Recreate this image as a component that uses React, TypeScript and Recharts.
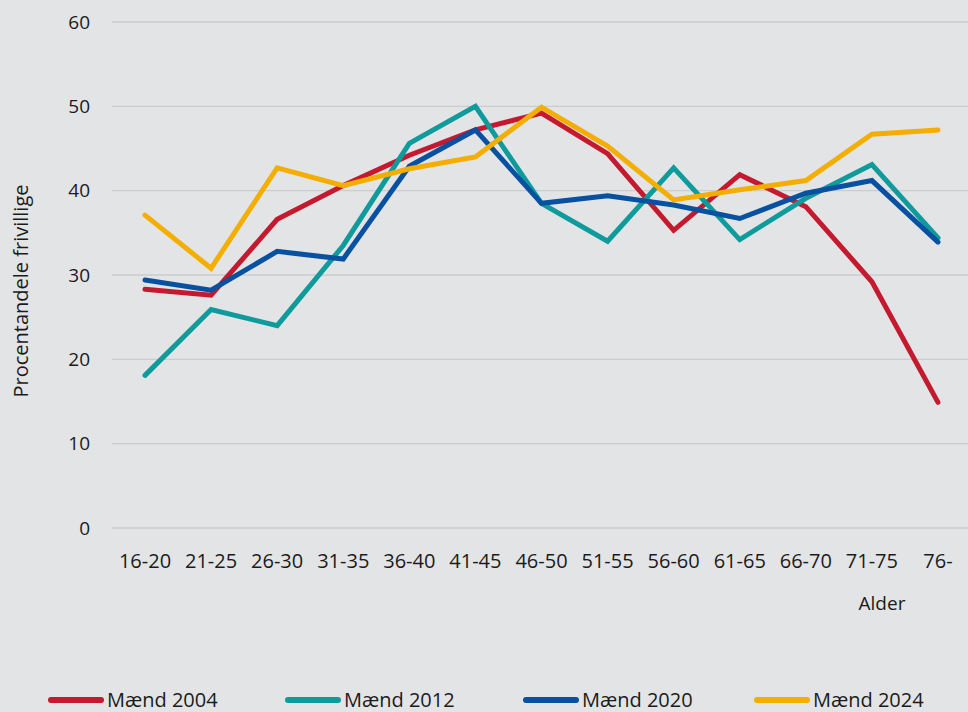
import { LineChart, Line, XAxis, YAxis, CartesianGrid, Legend } from 'recharts';

const AGES = ['16-20', '21-25', '26-30', '31-35', '36-40', '41-45', '46-50', '51-55', '56-60', '61-65', '66-70', '71-75', '76-'];

const MAEND_2004 = [28.3, 27.6, 36.6, 40.6, 44.2, 47.2, 49.2, 44.4, 35.3, 41.9, 38.1, 29.2, 14.9];
const MAEND_2012 = [18.1, 25.9, 24.0, 33.5, 45.6, 50.0, 38.5, 34.0, 42.7, 34.2, 39.1, 43.1, 34.4];
const MAEND_2020 = [29.4, 28.2, 32.8, 31.9, 42.9, 47.2, 38.5, 39.4, 38.3, 36.7, 39.7, 41.2, 33.9];
const MAEND_2024 = [37.1, 30.8, 42.7, 40.6, 42.6, 44.0, 49.9, 45.3, 38.9, 40.1, 41.2, 46.7, 47.2];

const Y_TICKS = [0, 10, 20, 30, 40, 50, 60];

const SERIES = [
    { key: 'm2004', name: 'Mænd 2004', color: '#c41a30', values: MAEND_2004 },
    { key: 'm2012', name: 'Mænd 2012', color: '#0f9b9b', values: MAEND_2012 },
    { key: 'm2020', name: 'Mænd 2020', color: '#0751a0', values: MAEND_2020 },
    { key: 'm2024', name: 'Mænd 2024', color: '#f3ae00', values: MAEND_2024 },
];

// legend item left edges, px
const LEGEND_X = [48, 285, 523, 754];

const TEXT = '#1b1b1b';

const data = AGES.map((age, i) => {
    const row: Record<string, string | number> = { age };
    SERIES.forEach((s) => { row[s.key] = s.values[i]; });
    return row;
});

function LegendRow(props: any) {
    const payload = props.payload ?? [];
    return (
        <div style={{ position: 'relative', height: 24, width: 968 }}>
            {payload.map((p: any, i: number) => (
                <div
                    key={p.value}
                    style={{ position: 'absolute', left: LEGEND_X[i], top: 0, height: 24, display: 'flex', alignItems: 'center' }}
                >
                    <span style={{ display: 'inline-block', width: 56, height: 6, borderRadius: 3, background: p.color }} />
                    <span style={{ marginLeft: 3, fontSize: 20, color: TEXT, lineHeight: '24px' }}>{p.value}</span>
                </div>
            ))}
        </div>
    );
}

function YTitle(props: any) {
    const vb = props.viewBox ?? { x: 0, y: 0, height: 0 };
    const x = vb.x + 20;
    const y = vb.y + vb.height / 2 + 16;
    return (
        <text x={x} y={y} transform={`rotate(-90, ${x}, ${y})`} textAnchor="middle" dominantBaseline="central" fontSize={20} fill={TEXT}>
            Procentandele frivillige
        </text>
    );
}

function XTitle(props: any) {
    const vb = props.viewBox ?? { x: 0, y: 0, width: 0 };
    return (
        <text x={vb.x + vb.width - 89} y={vb.y + 75} textAnchor="middle" dominantBaseline="central" fontSize={19} fill={TEXT}>
            Alder
        </text>
    );
}

export default function App() {
    return (
        <div
            style={{
                position: 'absolute', left: 0, top: 0, width: 968, height: 712, overflow: 'hidden',
                background: '#e3e4e6', fontFamily: '"Open Sans", sans-serif',
            }}
        >
            <LineChart width={972} height={712} data={data} margin={{ top: 22, right: 1, left: 0, bottom: 0 }}>
                <CartesianGrid vertical={false} stroke="#cbccce" strokeWidth={1.3} />
                <XAxis
                    dataKey="age"
                    axisLine={false}
                    tickLine={false}
                    tick={{ fontSize: 20, fill: TEXT }}
                    tickMargin={20}
                    interval={0}
                    padding={{ left: 33, right: 33 }}
                    height={160}
                    label={<XTitle />}
                />
                <YAxis
                    domain={[0, 60]}
                    ticks={Y_TICKS}
                    axisLine={false}
                    tickLine={false}
                    tick={{ fontSize: 19, fill: TEXT }}
                    tickMargin={16}
                    width={112}
                    label={<YTitle />}
                />
                <Legend
                    verticalAlign="bottom"
                    align="left"
                    content={<LegendRow />}
                    wrapperStyle={{ left: 0, width: 968, bottom: 0 }}
                />
                {SERIES.map((s) => (
                    <Line
                        key={s.key}
                        dataKey={s.key}
                        name={s.name}
                        stroke={s.color}
                        strokeWidth={5}
                        strokeLinecap="round"
                        strokeLinejoin="miter"
                        dot={false}
                        activeDot={false}
                        isAnimationActive={false}
                    />
                ))}
            </LineChart>
        </div>
    );
}
